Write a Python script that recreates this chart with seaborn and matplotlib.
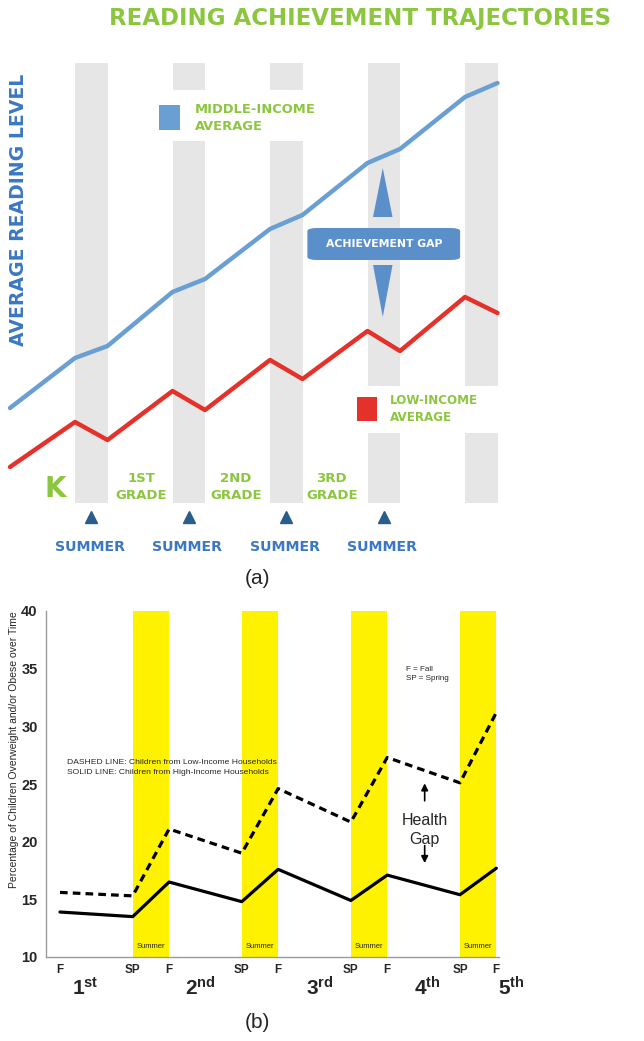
import matplotlib
matplotlib.use("Agg")
import matplotlib.pyplot as plt
from matplotlib.patches import Rectangle, FancyBboxPatch, Polygon
import seaborn as sns

# ---- panel (a): reading achievement ----
time_a = [0, 2, 3, 5, 6, 8, 9, 11, 12, 14, 15]
middle_income = [7.2, 12.2, 13.4, 18.8, 20.1, 25.1, 26.5, 31.7, 33.1, 38.3, 39.7]
low_income = [1.3, 5.8, 4.0, 8.9, 7.0, 12.0, 10.1, 14.9, 12.9, 18.3, 16.7]
grade_labels_a = ["K", "1ST\nGRADE", "2ND\nGRADE", "3RD\nGRADE"]

# ---- panel (b): overweight / obese ----
time_b = [0, 2, 3, 5, 6, 8, 9, 11, 12]
season_labels = ["F", "SP", "F", "SP", "F", "SP", "F", "SP", "F"]
low_income_b = [15.6, 15.3, 21.1, 19.0, 24.6, 21.7, 27.3, 25.1, 31.2]
high_income_b = [13.9, 13.5, 16.5, 14.8, 17.6, 14.9, 17.1, 15.4, 17.7]
grades_b = ["1", "2", "3", "4", "5"]
grade_sup = ["st", "nd", "rd", "th", "th"]

GREEN = "#8cc63f"
BLUE_LINE = "#6a9fd4"
RED_LINE = "#e4322b"
BLUE_TXT = "#3b78c3"
NAVY = "#2b5d8c"

sns.set_style("white")
plt.rcParams["font.family"] = ["DejaVu Sans"]
plt.rcParams["mathtext.fontset"] = "custom"
plt.rcParams["mathtext.bf"] = "Liberation Sans:bold"
plt.rcParams["mathtext.rm"] = "Liberation Sans"

W, H = 644, 1041
fig = plt.figure(figsize=(W / 100, H / 100), dpi=100)

# panel a axes covers pixel rows 0..560
ax = fig.add_axes([0, 1 - 560 / H, 1, 560 / H])
ax.set_xlim(-10 / 32.5, 634 / 32.5)
ax.set_ylim(-8, 48)
ax.axis("off")

summer_starts_a = time_a[1::2]
for s in summer_starts_a:
    ax.add_patch(Rectangle((s, -2.3), 1, 44.0, color="#e6e6e6", lw=0, zorder=1))
# white gaps behind the legends
ax.add_patch(Rectangle((4.3, 33.9), 5.3, 5.1, color="white", lw=0, zorder=2))
ax.add_patch(Rectangle((10.3, 4.7), 5.0, 4.7, color="white", lw=0, zorder=2))

sns.lineplot(x=time_a, y=middle_income, ax=ax, color=BLUE_LINE, lw=3.2, zorder=5)
sns.lineplot(x=time_a, y=low_income, ax=ax, color=RED_LINE, lw=3.2, zorder=5)

fig.text(360 / W, 1 - 19 / H, "READING ACHIEVEMENT TRAJECTORIES", color=GREEN,
         fontsize=16.5, fontweight="bold", ha="center", va="center")
fig.text(19 / W, 1 - 210 / H, "AVERAGE READING LEVEL", color=BLUE_TXT,
         fontsize=13.6, fontweight="bold", rotation=90, ha="center", va="center")

# legends
ax.add_patch(Rectangle((4.585, 35.0), 0.65, 2.5, color=BLUE_LINE, lw=0, zorder=3))
ax.text(5.69, 36.2, "MIDDLE-INCOME\nAVERAGE", color=GREEN, fontsize=9.4,
        fontweight="bold", va="center", ha="left", linespacing=1.35, zorder=3)
ax.add_patch(Rectangle((10.68, 5.9), 0.6, 2.4, color=RED_LINE, lw=0, zorder=3))
ax.text(11.69, 7.1, "LOW-INCOME\nAVERAGE", color=GREEN, fontsize=8.6,
        fontweight="bold", va="center", ha="left", linespacing=1.35, zorder=3)

# achievement gap marker
ax.add_patch(FancyBboxPatch((9.25, 22.1), 4.5, 3.0, boxstyle="round,pad=0.1,rounding_size=0.3",
                            color="#5b8fc9", lw=0, zorder=4))
ax.text(11.5, 23.6, "ACHIEVEMENT GAP", color="white", fontsize=7.8,
        fontweight="bold", ha="center", va="center", zorder=6)
ax.add_patch(Polygon([[11.17, 26.3], [11.77, 26.3], [11.47, 31.2]], color="#5b8fc9", lw=0, zorder=4))
ax.add_patch(Polygon([[11.17, 21.5], [11.77, 21.5], [11.47, 16.3]], color="#5b8fc9", lw=0, zorder=4))

# grade labels
ax.text(1.4, -0.9, grade_labels_a[0], color=GREEN, fontsize=20, fontweight="bold",
        ha="center", va="center")
for gx, lab in zip([4.05, 6.95, 9.9], grade_labels_a[1:]):
    ax.text(gx, -0.7, lab, color=GREEN, fontsize=9.5, fontweight="bold",
            ha="center", va="center", linespacing=1.4)

for s in summer_starts_a[:4]:
    ax.plot(s + 0.5, -3.7, marker="^", color=NAVY, ms=9, ls="none")
    ax.text(s + 0.45, -6.7, "SUMMER", color=BLUE_TXT, fontsize=10.2,
            fontweight="bold", ha="center", va="center")

fig.text(257 / W, 1 - 578 / H, "(a)", fontsize=15, ha="center", va="center",
         family=["Liberation Sans"])

# ---- panel b ----
bx = fig.add_axes([46 / W, 1 - 957 / H, 453 / W, 346 / H])
bx.set_xlim(-14 / 36.4, 439.5 / 36.4)
bx.set_ylim(10, 40)

summer_starts_b = time_b[1::2]
summer_ends_b = time_b[2::2]
for s, e in zip(summer_starts_b, summer_ends_b):
    bx.axvspan(s, e, color="#fff200", lw=0, zorder=1)
    bx.text((s + e) / 2, 10.95, "Summer", fontsize=5.5, ha="center", va="center",
            family=["Liberation Sans"], zorder=3)

sns.lineplot(x=time_b, y=low_income_b, ax=bx, color="black", lw=2.3, zorder=4)
bx.lines[-1].set_linestyle((0, (2.4, 1.6)))
sns.lineplot(x=time_b, y=high_income_b, ax=bx, color="black", lw=2.3, zorder=4)

for side in ["top", "right"]:
    bx.spines[side].set_visible(False)
for side in ["left", "bottom"]:
    bx.spines[side].set_color("#9a9a9a")
    bx.spines[side].set_linewidth(1)

bx.set_yticks(range(10, 41, 5))
bx.set_yticklabels([str(v) for v in range(10, 41, 5)], fontsize=10.5,
                   fontweight="bold", family=["Liberation Sans"])
bx.set_xticks(time_b)
bx.set_xticklabels(season_labels, fontsize=8.5, fontweight="bold",
                   family=["Liberation Sans"])
bx.tick_params(axis="both", length=0)
bx.tick_params(axis="y", pad=6)
bx.tick_params(axis="x", pad=5)

bx.set_ylabel("Percentage of Children Overweight and/or Obese over Time",
              fontsize=7.5, family=["Liberation Sans"])
bx.yaxis.set_label_coords(-0.06, 0.6)

for gx, g, sup in zip([0.69, 3.85, 7.14, 10.1, 12.4], grades_b, grade_sup):
    bx.text(gx, 7.3, r"$\mathbf{%s^{%s}}$" % (g, sup), fontsize=15,
            ha="center", va="center", clip_on=False)

small = ["Liberation Sans"]
bx.text(9.53, 34.5, "F = Fall\nSP = Spring", fontsize=5.8, ha="left", va="center",
        family=small, linespacing=1.4)
bx.text(0.19, 26.45, "DASHED LINE: Children from Low-Income Households\n"
        "SOLID LINE: Children from High-Income Households",
        fontsize=6.1, ha="left", va="center", family=small, linespacing=1.6)

bx.text(10.03, 21.0, "Health\nGap", fontsize=11.5, ha="center", va="center",
        family=small, linespacing=1.3)
bx.annotate("", xy=(10.03, 25.3), xytext=(10.03, 23.3),
            arrowprops=dict(arrowstyle="-|>", color="black", lw=1.2))
bx.annotate("", xy=(10.03, 17.9), xytext=(10.03, 19.9),
            arrowprops=dict(arrowstyle="-|>", color="black", lw=1.2))

fig.text(257 / W, 1 - 1023 / H, "(b)", fontsize=15, ha="center", va="center",
         family=["Liberation Sans"])

fig.savefig("out.png", dpi=100)
